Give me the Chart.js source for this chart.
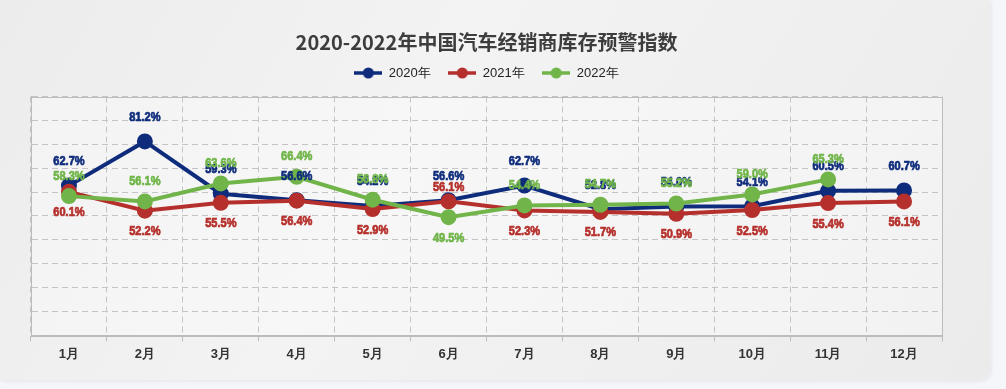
<!DOCTYPE html>
<html>
<head>
<meta charset="utf-8">
<script src="https://cdn.jsdelivr.net/npm/chart.js@4.4.1/dist/chart.umd.min.js"></script>
<style>
  html, body { margin: 0; padding: 0; background: #f4f6f9; }
  #wrap {
    position: absolute; left: 0; top: 0; width: 990px; height: 380px;
    background: linear-gradient(120deg, #ececec 0%, #f3f3f3 40%, #efefef 70%, #ebebeb 100%);
    border-radius: 0 0 10px 0;
    box-shadow: 1px 1px 4px rgba(0,0,0,0.08);
  }
  #box { position: absolute; left: 0; top: 0; width: 1006px; height: 389px; }
</style>
</head>
<body>
<div id="wrap"></div>
<div id="box"><canvas id="chart"></canvas></div>
<script>
// 月份
const months = ['1月', '2月', '3月', '4月', '5月', '6月', '7月', '8月', '9月', '10月', '11月', '12月'];
// 库存预警指数 (%)
const index2020 = [62.7, 81.2, 59.3, 56.6, 54.2, 56.6, 62.7, 52.8, 54.0, 54.1, 60.5, 60.7];
const index2021 = [60.1, 52.2, 55.5, 56.4, 52.9, 56.1, 52.3, 51.7, 50.9, 52.5, 55.4, 56.1];
const index2022 = [58.3, 56.1, 63.6, 66.4, 56.8, 49.5, 54.4, 54.7, 55.2, 59.0, 65.3, null];
const seriesNames = ['2020年', '2021年', '2022年'];
const yTicks = [0, 100, 10]; // min, max, step (labels hidden)

const COLORS = ['#0f2c7c', '#b5302c', '#71b54a'];
const sansFam = "'Liberation Sans', Arial, sans-serif";

// legend marker: short line with a dot in the middle
function legendMarker(color) {
  const c = document.createElement('canvas');
  c.width = 28; c.height = 14;
  const g = c.getContext('2d');
  g.strokeStyle = color; g.lineWidth = 3.5;
  g.beginPath(); g.moveTo(0, 7); g.lineTo(28, 7); g.stroke();
  g.fillStyle = color;
  g.beginPath(); g.arc(14, 7, 5.5, 0, Math.PI * 2); g.fill();
  return c;
}

// extra room under the legend
const legendGap = {
  id: 'legendGap',
  afterInit(chart) {
    const lg = chart.legend;
    const fit = lg.fit.bind(lg);
    lg.fit = function () { fit(); this.height += 7; };
  }
};

// solid frame around plot area + light fill
const frameBox = {
  id: 'frameBox',
  beforeDraw(chart) {
    const a = chart.chartArea, ctx = chart.ctx;
    ctx.save();
    ctx.fillStyle = 'rgba(255,255,255,0.35)';
    ctx.fillRect(a.left, a.top, a.right - a.left, a.bottom - a.top);
    ctx.restore();
  },
  beforeDatasetsDraw(chart) {
    const a = chart.chartArea, ctx = chart.ctx;
    ctx.save();
    ctx.strokeStyle = '#bcbcbc';
    ctx.lineWidth = 1;
    ctx.strokeRect(Math.round(a.left) + 0.5, Math.round(a.top) + 0.5,
      Math.round(a.right - a.left), Math.round(a.bottom - a.top));
    ctx.restore();
  }
};

// value labels: 2020 above, 2021 below, 2022 above;
// where 2022 dips clearly under 2021 the two swap sides
const valueLabels = {
  id: 'valueLabels',
  afterDatasetsDraw(chart) {
    const ctx = chart.ctx;
    const sets = chart.data.datasets;
    ctx.save();
    ctx.font = 'bold 13px ' + sansFam;
    ctx.textAlign = 'center';
    ctx.textBaseline = 'middle';
    ctx.lineWidth = 0.7;
    sets.forEach((ds, i) => {
      const meta = chart.getDatasetMeta(i);
      ds.data.forEach((v, j) => {
        if (v == null) return;
        const pt = meta.data[j];
        const g = sets[2].data[j], r = sets[1].data[j];
        const dip = g != null && r != null && g < r - 3;
        let dy = i === 0 ? -24 : (i === 1 ? 21 : -20);
        if (dip && i === 2) dy = 21;
        if (dip && i === 1) dy = -14;
        const txt = v.toFixed(1) + '%';
        ctx.save();
        ctx.translate(pt.x, pt.y + dy);
        ctx.scale(0.85, 1);
        ctx.fillStyle = ds.borderColor;
        ctx.strokeStyle = ds.borderColor;
        ctx.fillText(txt, 0, 0);
        ctx.strokeText(txt, 0, 0);
        ctx.restore();
      });
    });
    ctx.restore();
  }
};

const seriesData = [index2020, index2021, index2022];

new Chart(document.getElementById('chart'), {
  type: 'line',
  data: {
    labels: months,
    datasets: seriesData.map((d, i) => ({
      label: seriesNames[i],
      data: d,
      borderColor: COLORS[i],
      backgroundColor: COLORS[i],
      pointBackgroundColor: COLORS[i],
      pointBorderColor: COLORS[i],
      borderWidth: 4,
      pointRadius: 6,
      pointHoverRadius: 6,
      tension: 0,
      order: 2 - i,
      pointStyle: 'circle'
    }))
  },
  options: {
    responsive: true,
    maintainAspectRatio: false,
    animation: false,
    layout: { padding: { left: 31, right: 64, top: 0, bottom: 22 } },
    plugins: {
      tooltip: { enabled: false },
      title: {
        display: true,
        text: '2020-2022年中国汽车经销商库存预警指数',
        color: '#3d3d3d',
        font: { size: 20, weight: 'bold', family: "'Noto Sans CJK SC', " + sansFam, lineHeight: 0.7 },
        padding: { top: 35, bottom: 0 }
      },
      legend: {
        display: true,
        position: 'top',
        labels: {
          color: '#222',
          font: { size: 13, family: sansFam },
          usePointStyle: true,
          pointStyleWidth: 28,
          padding: 17.5,
          generateLabels(chart) {
            return chart.data.datasets.map((ds, i) => ({
              text: ds.label,
              fillStyle: ds.borderColor,
              strokeStyle: ds.borderColor,
              lineWidth: 0,
              pointStyle: legendMarker(ds.borderColor),
              datasetIndex: i,
              hidden: false,
              fontColor: '#222'
            }));
          }
        }
      }
    },
    scales: {
      x: {
        offset: true,
        grid: { color: '#c4c4c4', offset: true, tickLength: 6, tickColor: '#bcbcbc' },
        border: { color: '#bcbcbc', dash: [6, 4] },
        ticks: {
          color: '#333',
          padding: 5,
          font: { size: 13, weight: 'bold', family: sansFam }
        }
      },
      y: {
        min: yTicks[0],
        max: yTicks[1],
        ticks: { display: false, stepSize: yTicks[2] },
        grid: { color: '#c4c4c4', drawTicks: false },
        border: { color: '#bcbcbc', dash: [6, 4] }
      }
    }
  },
  plugins: [legendGap, frameBox, valueLabels]
});
</script>
</body>
</html>
